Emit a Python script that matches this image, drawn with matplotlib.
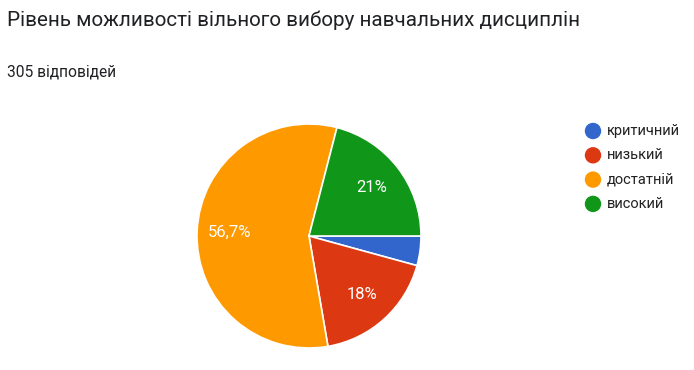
import matplotlib
matplotlib.use("Agg")
import matplotlib.pyplot as plt
from matplotlib.patches import Ellipse

plt.rcParams['font.family'] = ['Roboto', 'DejaVu Sans']

# дані з форми: 305 відповідей
title = "Рівень можливості вільного вибору навчальних дисциплін"
subtitle = "305 відповідей"
categories = ["критичний", "низький", "достатній", "високий"]
counts = [13, 55, 173, 64]
colors = ["#3366cc", "#dc3912", "#ff9900", "#109618"]

W, H = 694, 370
fig = plt.figure(figsize=(W / 100, H / 100), dpi=100)


def px_axes(x0, y0, w, h):
    # координати в пікселях від лівого верхнього кута
    return fig.add_axes([x0 / W, 1 - (y0 + h) / H, w / W, h / H])


def fmt_pct(pct):
    if pct < 5:
        return ""
    s = f"{pct:.1f}"
    if s.endswith(".0"):
        s = s[:-2]
    return s.replace(".", ",") + "%"


fig.text(7 / W, 1 - 20 / H, title, fontsize=14.85, color="#202124", va="center", ha="left")
fig.text(7 / W, 1 - 72 / H, subtitle, fontsize=11.2, color="#202124", va="center", ha="left")

R = 112
ax = px_axes(309 - R, 236 - R, 2 * R, 2 * R)
wedges, texts, autotexts = ax.pie(
    counts, colors=colors, startangle=0, counterclock=False,
    autopct=fmt_pct, pctdistance=0.71,
    wedgeprops=dict(edgecolor="white", linewidth=1.2),
    textprops=dict(color="white", fontsize=12),
)
ax.set_xlim(-1, 1)
ax.set_ylim(-1, 1)
ax.set_aspect("equal")
ax.axis("off")

# легенда
for i, (name, c) in enumerate(zip(categories, colors)):
    y = 131 + i * 24.3
    fig.patches.append(Ellipse((593 / W, 1 - y / H), 15 / W, 15 / H,
                               transform=fig.transFigure, color=c, figure=fig))
    fig.text(607 / W, 1 - y / H, name, fontsize=10.5, color="#222222", va="center", ha="left")

fig.savefig("out.png", dpi=100, facecolor="white")
